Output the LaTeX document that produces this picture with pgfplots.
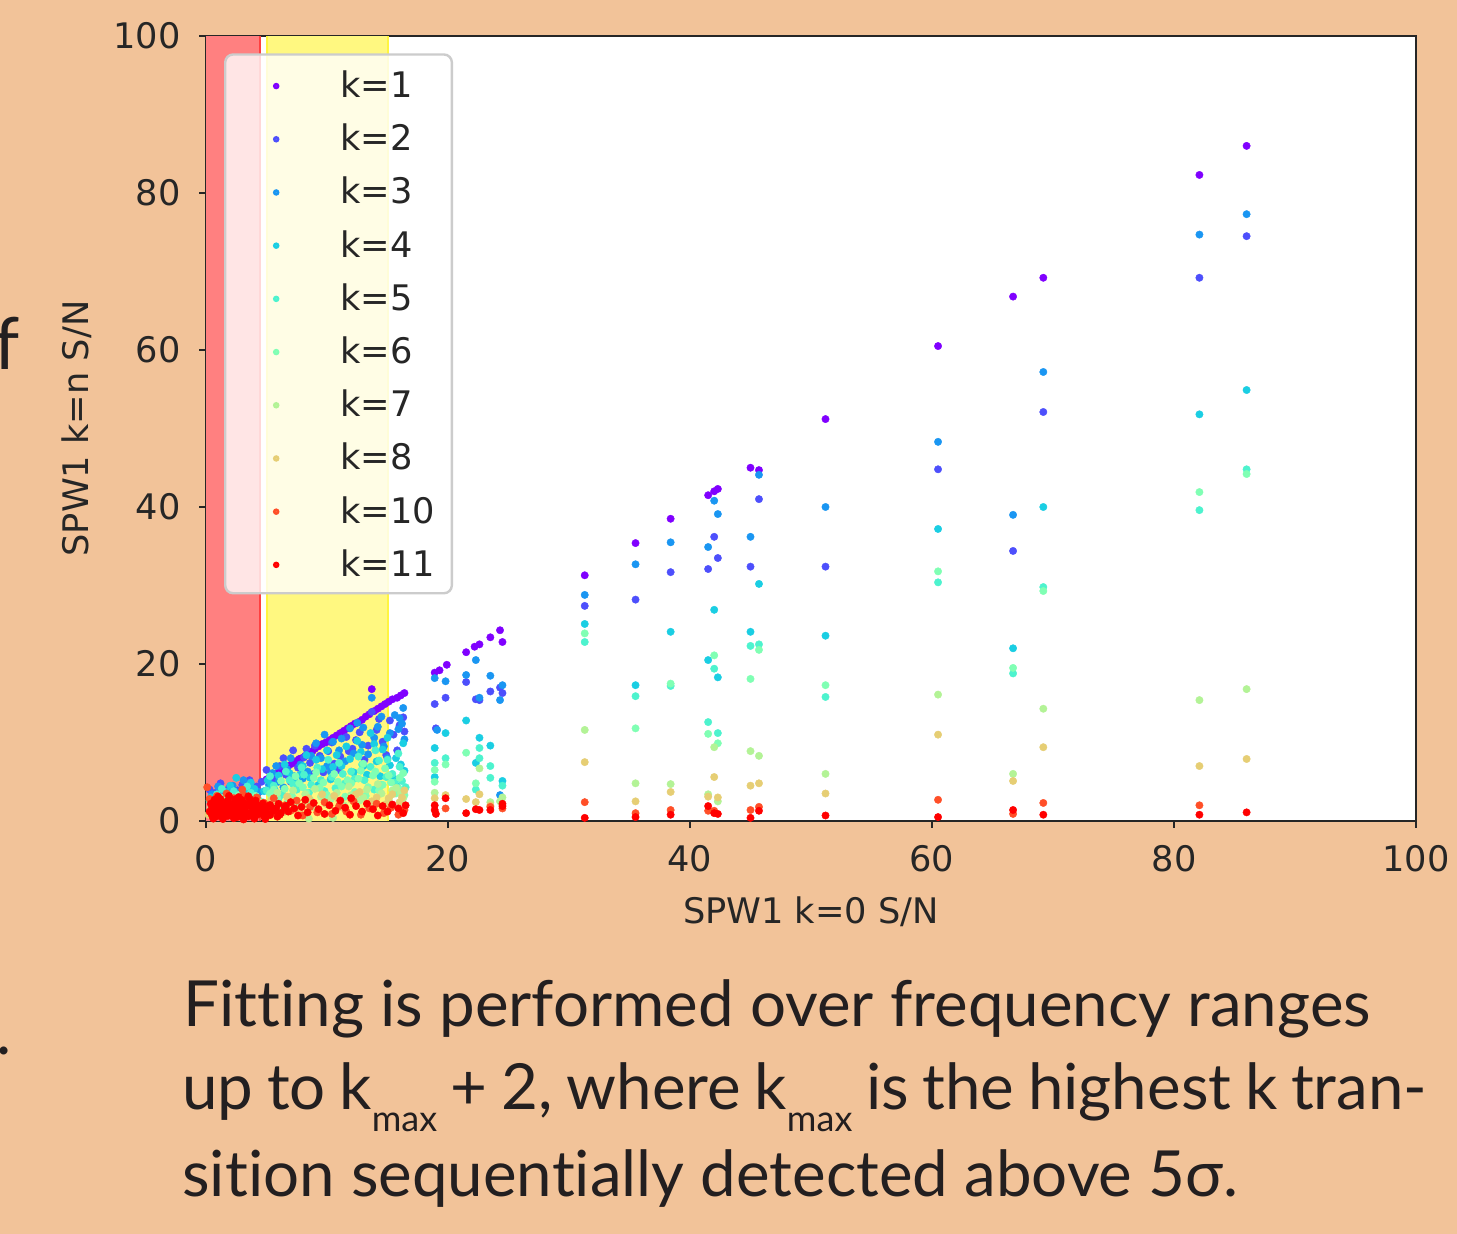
\documentclass[border=0pt]{standalone}
\usepackage{fontspec}
\setmainfont{DejaVu Sans}
\newfontfamily\latofont[Ligatures=NoCommon]{Lato}
\usepackage{pgfplots}
\pgfplotsset{compat=1.18}
\definecolor{bgpeach}{HTML}{F2C399}
\definecolor{txt}{HTML}{262626}
\definecolor{capt}{HTML}{231F20}
\definecolor{ka}{HTML}{8000FF}
\definecolor{kb}{HTML}{4D4FFC}
\definecolor{kc}{HTML}{1A96F2}
\definecolor{kd}{HTML}{1ACEE3}
\definecolor{ke}{HTML}{4DF3CE}
\definecolor{kf}{HTML}{80FFB4}
\definecolor{kg}{HTML}{B3F396}
\definecolor{kh}{HTML}{E6CE74}
\definecolor{kj}{HTML}{FF4F28}
\definecolor{kk}{HTML}{FF0000}
\newcommand{\chartfont}{\fontsize{17.6bp}{20bp}\selectfont}
\pgfplotsset{sc/.style={only marks, mark=*, mark size=1.85bp, mark options={line width=0.2bp}}}
\begin{document}
\begin{tikzpicture}
\fill[bgpeach] (0,0) rectangle (728.5bp,617bp);
\useasboundingbox (0,0) rectangle (728.5bp,617bp);
\begin{axis}[
  at={(103bp,206.5bp)}, anchor=south west,
  scale only axis, width=605bp, height=392.5bp,
  xmin=0, xmax=100, ymin=0, ymax=100,
  xtick={0,20,...,100}, ytick={0,20,...,100},
  tick pos=left, tick align=outside,
  major tick length=3.5bp,
  every tick/.style={line width=1bp, txt},
  axis line style={line width=1.2bp, txt},
  axis background/.style={fill=white},
  /pgf/number format/assume math mode=true,
  ticklabel style={font=\chartfont, text=txt, inner sep=0pt},
  xticklabel style={anchor=base, yshift=-22bp},
  yticklabel style={anchor=east, xshift=-9bp},
  xlabel={SPW1 k=0 S/N}, ylabel={SPW1 k=n S/N},
  label style={font=\chartfont, text=txt, inner sep=0pt},
  xlabel style={at={(axis description cs:0.5,-0.1312)}, anchor=base},
  ylabel style={at={(axis description cs:-0.1066,0.5)}, anchor=center},
  legend style={at={(axis description cs:0.01488,0.9780)}, anchor=north west,
    draw=black!20, line width=1.2bp, rounded corners=4bp, fill=white, fill opacity=0.8, text opacity=1,
    inner sep=8.5bp, row sep=13.6bp, font=\chartfont, text=txt,
    nodes={inner sep=0pt, text height=13bp, text depth=0bp}},
  legend cell align=left,
  legend image code/.code={\path[draw=none,fill=none] (0bp,-1bp) rectangle (33bp,1bp); \fill (17bp,-0.8bp) circle (1bp);},
  /tikz/every odd column/.append style={column sep=16bp},
]
\fill[red!50!white] (axis cs:0,0) rectangle (axis cs:4.5,100);
\draw[red!75!white, line width=1bp] (axis cs:4.5,0) -- (axis cs:4.5,100);
\fill[yellow!50!white] (axis cs:5,0) rectangle (axis cs:15,100);
\draw[yellow!75!white, line width=1bp] (axis cs:5,0) -- (axis cs:5,100) (axis cs:15,0) -- (axis cs:15,100);

\addplot[sc, color=ka] coordinates {
(5.0,5.3)(5.3,5.6)(5.6,5.8)(5.9,6.1)(6.2,6.4)(6.5,6.6)(6.8,7.0)(7.1,7.3)(7.4,7.6)(7.7,7.9)(7.9,8.0)(8.2,8.3)(8.5,8.6)(8.8,8.9)(9.0,9.2)(9.3,9.5)(9.6,9.8)(9.9,10.0)(10.2,10.3)(10.5,10.6)(10.8,10.9)(11.1,11.2)(11.4,11.5)(11.7,11.8)(12.0,12.1)(12.3,12.4)(12.6,12.6)(12.9,12.9)(13.2,13.3)(13.5,13.6)(13.7,16.8)(13.9,14.0)(14.2,14.3)(14.5,14.6)(14.8,14.9)(15.1,15.2)(15.4,15.5)(15.8,15.7)(16.1,16.0)(16.4,16.3)
(18.9,18.9)(19.3,19.2)(19.9,19.9)(21.5,21.5)(22.2,22.2)(22.6,22.5)(23.5,23.4)(24.3,24.3)(24.5,22.8)
(31.3,31.3)(35.5,35.4)(38.4,38.5)(41.5,41.5)(42.0,42.0)(42.3,42.3)(45.0,45.0)(45.7,44.7)(51.2,51.2)(60.5,60.5)(66.7,66.8)(69.2,69.2)(82.1,82.3)(86.0,86.0)};
\addlegendentry{k=1}
\addplot[sc, color=kb] coordinates {
(0.3,4.0)(0.8,3.6)(1.2,4.8)(1.9,4.2)(2.6,3.9)(3.0,4.6)(3.6,5.2)(4.2,4.4)(4.6,5.0)(5.0,6.5)(5.6,5.2)(6.1,7.0)(6.6,5.9)(7.2,9.0)(7.6,6.8)(8.1,8.1)(8.6,7.4)(9.0,9.6)(9.7,6.2)(10.1,8.9)(10.6,7.3)(11.1,8.2)(11.6,10.7)(12.1,9.2)(12.4,10.3)(13.1,7.8)(13.7,13.9)(14.1,11.6)(14.6,10.1)(15.2,12.8)(15.8,9.0)(16.0,12.2)(16.3,13.2)
(5.3,4.2)(6.4,8.0)(7.0,5.0)(8.3,9.2)(8.9,6.0)(9.4,8.3)(10.4,10.0)(10.9,6.5)(11.8,8.9)(12.7,11.3)(13.4,9.6)(14.3,13.0)(14.9,8.4)(15.5,11.0)(16.4,11.4)(3.3,3.8)(1.6,3.4)
(18.9,14.9)(19.0,11.8)(19.8,15.7)(21.5,17.7)(22.3,15.5)(22.6,15.4)(23.5,16.5)(24.3,17.0)(24.5,16.3)(31.3,27.4)(35.5,28.2)(38.4,31.7)(41.5,32.1)(42.0,36.2)(42.3,33.5)(45.0,32.4)(45.7,41.0)(51.2,32.4)(60.5,44.8)(66.7,34.4)(69.2,52.1)(82.1,69.2)(86.0,74.5)};
\addlegendentry{k=2}
\addplot[sc, color=kc] coordinates {
(0.5,3.4)(1.4,3.9)(2.2,4.5)(3.1,5.2)(3.8,4.0)(4.4,3.7)(5.5,6.1)(6.0,5.0)(6.7,6.6)(7.3,5.7)(7.8,7.2)(8.4,6.3)(9.1,9.9)(9.5,8.0)(10.0,7.0)(10.5,10.1)(11.0,9.0)(11.5,7.6)(11.9,11.8)(12.5,12.5)(12.9,9.7)(13.4,8.5)(13.7,15.7)(14.2,12.0)(14.7,9.5)(15.2,11.2)(15.6,13.5)(16.0,13.1)(16.3,14.4)(16.4,10.4)
(5.2,4.6)(5.8,7.0)(6.4,4.3)(7.0,8.0)(8.0,5.4)(8.7,8.3)(9.8,11.0)(10.3,6.3)(11.2,10.5)(12.2,8.6)(13.0,11.9)(13.9,10.6)(14.5,13.3)(15.0,8.0)(15.9,11.7)(16.2,12.4)(2.6,3.6)(1.0,4.4)
(18.9,18.2)(19.1,11.6)(19.8,17.8)(21.5,18.6)(22.3,20.5)(22.6,15.7)(23.5,18.5)(24.5,17.3)(24.3,15.4)(24.3,3.3)(31.3,28.8)(35.5,32.7)(38.4,35.5)(42.0,40.8)(42.3,39.1)(41.5,34.9)(45.7,44.1)(45.0,36.2)(51.2,40.0)(60.5,48.3)(66.7,39.0)(69.2,57.2)(82.1,74.7)(86.0,77.3)};
\addlegendentry{k=3}
\addplot[sc, color=kd] coordinates {
(0.4,3.0)(1.0,3.3)(1.7,3.7)(2.5,5.5)(3.3,3.5)(4.0,4.1)(4.8,3.8)(5.4,4.6)(6.0,5.8)(6.9,6.1)(7.4,4.9)(8.0,7.0)(8.6,5.5)(9.1,7.8)(9.6,6.6)(10.3,5.3)(10.8,8.4)(11.2,7.0)(11.6,9.5)(12.2,6.2)(12.8,8.8)(13.3,5.9)(13.6,11.2)(14.1,7.6)(14.6,9.1)(15.2,7.1)(15.5,5.4)(15.8,4.4)(16.3,9.9)(16.4,6.4)
(5.1,5.2)(5.7,3.9)(6.5,7.2)(7.8,5.9)(8.3,8.4)(9.3,4.6)(10.0,9.0)(10.5,6.9)(11.9,7.9)(12.5,10.2)(13.0,7.0)(13.9,9.8)(14.4,5.7)(15.0,10.6)(15.7,8.0)(16.1,7.2)(2.0,4.5)(3.7,4.9)
(18.9,9.3)(18.9,5.6)(19.8,11.2)(21.5,12.8)(22.6,10.6)(22.3,7.4)(23.5,9.6)(24.5,5.1)(31.3,25.1)(35.5,17.3)(38.4,24.1)(42.0,26.9)(41.5,20.5)(42.3,18.3)(45.7,30.2)(45.0,24.1)(51.2,23.6)(60.5,37.2)(66.7,22.0)(69.2,40.0)(82.1,51.8)(86.0,54.9)};
\addlegendentry{k=4}
\addplot[sc, color=ke] coordinates {
(0.3,2.6)(0.9,3.4)(1.6,2.9)(2.3,3.8)(3.0,3.1)(3.7,3.6)(4.3,2.8)(5.0,3.9)(5.6,4.5)(6.3,3.4)(6.9,5.2)(7.5,4.0)(8.1,5.9)(8.7,4.6)(9.2,6.8)(9.8,3.8)(10.4,5.6)(11.0,7.4)(11.5,4.8)(12.0,6.3)(12.6,8.2)(13.1,5.2)(13.6,6.9)(14.0,9.0)(14.5,4.6)(15.0,7.8)(15.4,6.0)(15.9,8.6)(16.2,5.1)(16.5,4.3)
(5.3,5.7)(6.0,2.9)(6.6,6.3)(7.2,4.7)(7.9,6.8)(8.5,3.6)(9.5,5.2)(10.1,7.8)(10.7,4.2)(11.3,6.0)(12.3,5.4)(12.9,7.2)(13.9,4.0)(14.3,7.7)(14.9,5.6)(15.6,4.9)(16.0,6.9)(1.3,4.1)(3.4,4.4)
(18.9,7.4)(19.8,8.0)(22.6,9.3)(22.6,8.0)(22.3,4.0)(23.5,7.0)(23.5,5.5)(24.5,4.5)(31.3,22.8)(35.5,15.9)(38.4,17.2)(42.0,19.4)(41.5,12.6)(42.3,11.2)(45.0,22.3)(45.7,22.5)(51.2,15.8)(60.5,30.4)(66.7,18.8)(69.2,29.8)(82.1,39.6)(86.0,44.8)};
\addlegendentry{k=5}
\addplot[sc, color=kf] coordinates {
(0.5,2.2)(1.2,3.0)(1.9,2.5)(2.7,3.3)(3.4,2.7)(4.1,3.2)(4.7,2.4)(5.3,3.5)(5.9,2.9)(6.5,4.1)(7.1,3.2)(7.7,4.8)(8.3,3.6)(8.9,5.5)(9.4,4.2)(10.0,3.3)(10.6,6.0)(11.2,4.4)(11.7,5.2)(12.3,3.7)(12.8,6.4)(13.4,4.3)(13.8,5.8)(14.3,3.9)(14.8,6.7)(15.3,4.9)(15.7,3.5)(16.0,5.5)(16.4,3.3)(13.0,7.3)
(5.6,4.0)(6.2,5.1)(6.8,2.6)(7.4,5.7)(8.0,4.3)(8.6,2.7)(9.1,6.2)(9.7,4.9)(10.3,2.8)(10.9,5.0)(11.5,3.1)(12.0,4.8)(12.6,5.4)(13.2,3.2)(14.0,6.3)(14.6,4.6)(15.1,5.8)(15.9,4.2)(16.3,6.1)
(18.9,6.5)(18.9,5.0)(19.8,7.2)(21.5,8.7)(22.3,4.8)(31.3,23.9)(35.5,11.8)(38.4,17.5)(42.0,21.1)(41.5,11.1)(42.3,9.9)(45.7,21.8)(45.0,18.1)(51.2,17.3)(60.5,31.8)(66.7,19.5)(69.2,29.3)(82.1,41.9)(86.0,44.2)};
\addlegendentry{k=6}
\addplot[sc, color=kg] coordinates {
(0.4,1.6)(1.1,2.3)(1.8,1.4)(2.6,2.6)(3.3,1.9)(4.0,2.4)(4.7,1.5)(5.4,2.8)(6.1,1.9)(6.8,3.0)(7.5,2.2)(8.2,3.4)(8.8,1.8)(9.5,3.1)(10.1,2.4)(10.8,3.6)(11.4,2.0)(12.0,3.3)(12.7,2.6)(13.3,4.0)(13.9,2.3)(14.5,3.5)(15.1,2.8)(15.7,4.2)(16.3,2.9)(3.0,0.8)(8.5,0.3)(10.5,0.4)
(5.9,3.6)(7.2,3.9)(9.0,4.1)(10.4,3.0)(11.8,4.4)(13.0,3.0)(14.2,4.7)(15.4,3.9)(16.1,3.6)(2.2,3.0)(1.5,2.8)
(18.9,3.6)(22.6,6.7)(23.5,2.4)(24.5,3.0)(24.3,2.5)(31.3,11.6)(35.5,4.8)(38.4,4.7)(42.0,9.4)(41.5,3.4)(42.3,2.5)(45.0,8.9)(45.7,8.3)(51.2,6.0)(60.5,16.1)(66.7,6.0)(69.2,14.3)(82.1,15.4)(86.0,16.8)};
\addlegendentry{k=7}
\addplot[sc, color=kh] coordinates {
(0.2,0.8)(0.9,1.9)(1.5,1.2)(2.2,2.2)(2.9,1.0)(3.6,1.8)(4.3,2.6)(5.0,1.3)(5.7,2.0)(6.4,1.1)(7.1,2.5)(7.8,1.6)(8.5,2.9)(9.2,1.4)(9.9,2.2)(10.6,3.2)(11.3,1.7)(12.0,2.7)(12.7,3.7)(13.4,1.9)(14.1,3.0)(14.8,2.1)(15.4,3.4)(16.0,2.4)(16.4,3.9)
(5.4,2.6)(6.7,3.1)(8.2,2.2)(9.6,3.4)(11.0,2.6)(12.4,3.4)(13.7,2.5)(15.1,2.9)(16.2,3.0)
(18.9,2.9)(19.8,3.3)(21.5,2.8)(22.6,3.4)(22.3,2.4)(23.5,2.0)(31.3,7.5)(35.5,2.5)(38.4,3.7)(42.0,5.6)(41.5,3.1)(42.3,3.0)(45.0,4.5)(45.7,4.8)(51.2,3.5)(60.5,11.0)(66.7,5.1)(69.2,9.4)(82.1,7.0)(86.0,7.9)};
\addlegendentry{k=8}
\addplot[sc, color=kj] coordinates {
(0.1,4.3)(0.3,2.8)(0.6,1.5)(0.9,3.2)(1.2,0.7)(1.4,2.4)(1.7,3.5)(2.0,1.2)(2.3,2.9)(2.6,0.5)(2.8,2.1)(3.1,3.3)(3.4,1.0)(3.6,2.6)(3.9,1.7)(4.2,3.0)(4.5,0.8)(4.8,2.3)(5.2,1.4)(5.6,2.9)(6.0,0.9)(6.5,2.0)(7.0,1.3)(7.5,2.6)(8.0,0.7)(8.6,1.8)(9.2,1.1)(9.8,2.4)(10.4,0.9)(11.0,1.9)(11.6,1.2)(12.2,2.5)(12.8,0.8)(13.5,1.6)(14.1,2.2)(14.7,1.0)(15.3,1.7)(15.9,0.8)(16.4,1.4)(3.0,4.0)
(19.8,1.6)(23.5,1.8)(24.5,1.6)(31.3,2.4)(35.5,1.0)(38.4,1.4)(41.5,1.3)(42.0,1.3)(45.0,1.4)(45.7,1.8)(60.5,2.7)(66.7,0.9)(69.2,2.3)(82.1,2.0)};
\addlegendentry{k=10}
\addplot[sc, color=kk] coordinates {
(0.6,0.3)(1.4,0.25)(2.3,0.35)(3.1,0.2)(4.0,0.3)(4.9,0.25)
(0.5,0.7)(0.9,0.6)(1.3,0.8)(1.8,0.65)(2.2,0.75)(2.6,0.55)(3.0,0.8)(3.5,0.6)(3.9,0.7)(4.3,0.85)(4.8,0.6)(5.3,0.75)(5.9,0.55)
(0.3,1.2)(0.7,1.1)(1.1,1.3)(1.5,1.15)(2.0,1.25)(2.4,1.05)(2.8,1.3)(3.2,1.2)(3.7,1.1)(4.1,1.35)(4.5,1.2)(5.0,1.1)(5.6,1.3)(6.2,1.05)(6.8,1.2)
(0.5,1.7)(0.9,1.8)(1.3,1.6)(1.7,1.75)(2.2,1.85)(2.6,1.6)(3.0,1.7)(3.4,1.9)(3.9,1.65)(4.3,1.75)(4.7,1.55)(5.2,1.8)(5.8,1.65)(6.5,1.7)(7.3,1.6)
(0.4,2.2)(0.8,2.3)(1.2,2.15)(1.7,2.35)(2.1,2.1)(2.5,2.25)(2.9,2.4)(3.4,2.15)(3.8,2.3)(4.2,2.1)(4.7,2.25)(5.3,2.05)(6.0,2.2)
(0.7,2.7)(1.2,2.8)(1.8,2.6)(2.4,2.75)(3.0,2.65)(3.6,2.85)(4.1,2.6)
(1.0,3.1)(1.9,3.2)(2.7,3.05)(3.5,3.15)
(6.1,0.8)(6.6,1.9)(7.0,2.4)(7.6,0.7)(7.9,1.8)(8.4,1.1)(8.9,2.3)(9.3,1.5)(9.8,0.9)(10.2,2.0)(10.7,1.3)(11.1,2.6)(11.5,1.7)(11.9,0.8)(12.4,1.9)(12.9,1.2)(13.3,2.2)(13.8,1.5)(14.2,0.7)(14.6,1.9)(15.0,1.2)(15.4,2.1)(15.9,1.6)(16.3,1.0)(16.5,2.0)(8.2,2.7)(12.0,2.9)
(18.9,2.0)(18.9,1.4)(19.0,0.9)(19.8,2.9)(21.5,1.0)(22.3,1.5)(22.6,1.4)(23.5,1.4)(24.5,2.2)(24.5,1.9)(31.3,0.4)(35.5,0.5)(38.4,0.8)(41.5,1.9)(42.0,1.0)(42.3,0.9)(45.0,0.4)(45.7,1.3)(51.2,0.7)(60.5,0.5)(66.7,1.4)(69.2,0.8)(82.1,0.8)(86.0,1.1)};
\addlegendentry{k=11}
\end{axis}
\node[anchor=base east, inner sep=0pt, font=\latofont\fontsize{36bp}{40bp}\selectfont, text=capt] at (10bp,432bp) {f};
\node[anchor=base east, inner sep=0pt, font=\latofont\fontsize{32bp}{40bp}\selectfont, text=capt] at (5.8bp,89.5bp) {.};
\begin{scope}[every node/.style={anchor=base west, inner sep=0pt, text=capt, font=\latofont\fontsize{31.8bp}{40bp}\selectfont}]
\node at (91.5bp,103.5bp) {Fitting is performed over frequency ranges};
\node at (91bp,62bp) {\spaceskip=0.84\fontdimen2\font up to k\raisebox{-11bp}{\fontsize{18bp}{18bp}\selectfont max} + 2, where k\raisebox{-11bp}{\fontsize{18bp}{18bp}\selectfont max} is the highest k tran-};
\node at (91bp,18.7bp) {sition sequentially detected above 5σ.};
\end{scope}
\end{tikzpicture}
\end{document}
